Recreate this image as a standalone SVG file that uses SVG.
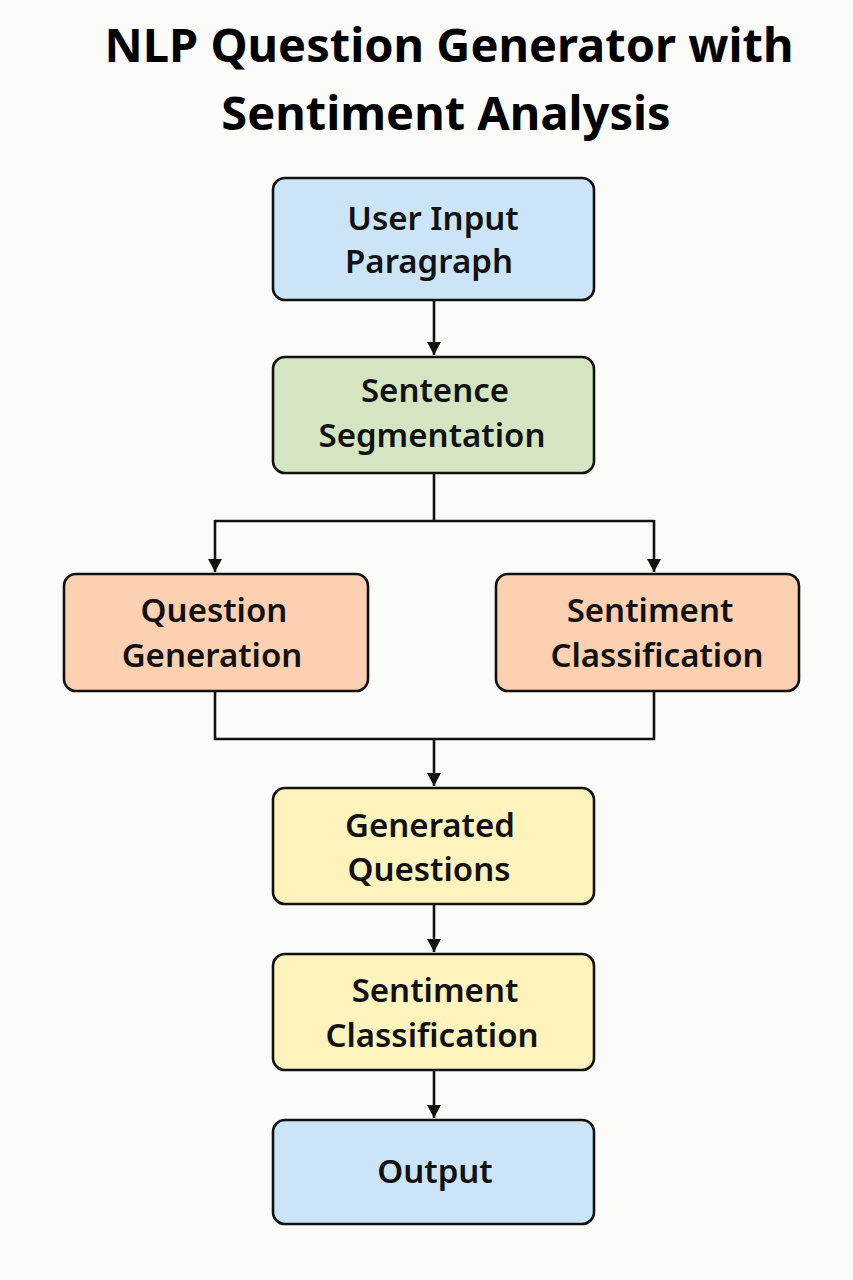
<svg xmlns="http://www.w3.org/2000/svg" width="853" height="1280" viewBox="0 0 853 1280">
<defs>
<marker id="arr" markerWidth="13" markerHeight="14" refX="13" refY="7" orient="auto" markerUnits="userSpaceOnUse">
<path d="M0,0 L13,7 L0,14 Z" fill="#111"/>
</marker>
<style>
.title{font-family:"Noto Sans","Liberation Sans",sans-serif;font-weight:bold;font-size:47px;fill:#000;text-anchor:middle}
.box{stroke:#111;stroke-width:2.6}
.lbl{font-family:"Noto Sans","Liberation Sans",sans-serif;font-weight:600;font-size:33px;fill:#111;text-anchor:middle}
.blue{fill:#cce4f7}
.green{fill:#d4e6c1}
.orange{fill:#fdd0b1}
.yellow{fill:#fef3bd}
.conn{fill:none;stroke:#111;stroke-width:2.6}
</style>
</defs>
<rect width="853" height="1280" fill="#fbfbf9"/>
<g id="title">
<text class="title" x="449" y="62">NLP Question Generator with</text>
<text class="title" x="446" y="130">Sentiment Analysis</text>
</g>
<g id="connectors">
<path class="conn" d="M434,300 V355" marker-end="url(#arr)"/>
<path class="conn" d="M434,473 V521 M215,521 H654"/>
<path class="conn" d="M215,520 V572" marker-end="url(#arr)"/>
<path class="conn" d="M654,520 V572" marker-end="url(#arr)"/>
<path class="conn" d="M215,691 V739 H654 V691"/>
<path class="conn" d="M434,739 V786" marker-end="url(#arr)"/>
<path class="conn" d="M434,904 V952" marker-end="url(#arr)"/>
<path class="conn" d="M434,1070 V1118" marker-end="url(#arr)"/>
</g>
<g id="user-input">
<rect class="box blue" x="273" y="178" width="321" height="122" rx="12"/>
<text class="lbl" x="433" y="230">User Input</text>
<text class="lbl" x="429" y="273">Paragraph</text>
</g>
<g id="sentence-segmentation">
<rect class="box green" x="273" y="357" width="321" height="116" rx="12"/>
<text class="lbl" x="435" y="402">Sentence</text>
<text class="lbl" x="432" y="447">Segmentation</text>
</g>
<g id="question-generation">
<rect class="box orange" x="64" y="574" width="304" height="117" rx="12"/>
<text class="lbl" x="214" y="622">Question</text>
<text class="lbl" x="212" y="667">Generation</text>
</g>
<g id="sentiment-classification-1">
<rect class="box orange" x="496" y="574" width="303" height="117" rx="12"/>
<text class="lbl" x="650" y="622">Sentiment</text>
<text class="lbl" x="657" y="667">Classification</text>
</g>
<g id="generated-questions">
<rect class="box yellow" x="273" y="788" width="321" height="116" rx="12"/>
<text class="lbl" x="430" y="837">Generated</text>
<text class="lbl" x="429" y="881">Questions</text>
</g>
<g id="sentiment-classification-2">
<rect class="box yellow" x="273" y="954" width="321" height="116" rx="12"/>
<text class="lbl" x="435" y="1002">Sentiment</text>
<text class="lbl" x="432" y="1047">Classification</text>
</g>
<g id="output">
<rect class="box blue" x="273" y="1120" width="321" height="104" rx="12"/>
<text class="lbl" x="435" y="1183">Output</text>
</g>
</svg>
